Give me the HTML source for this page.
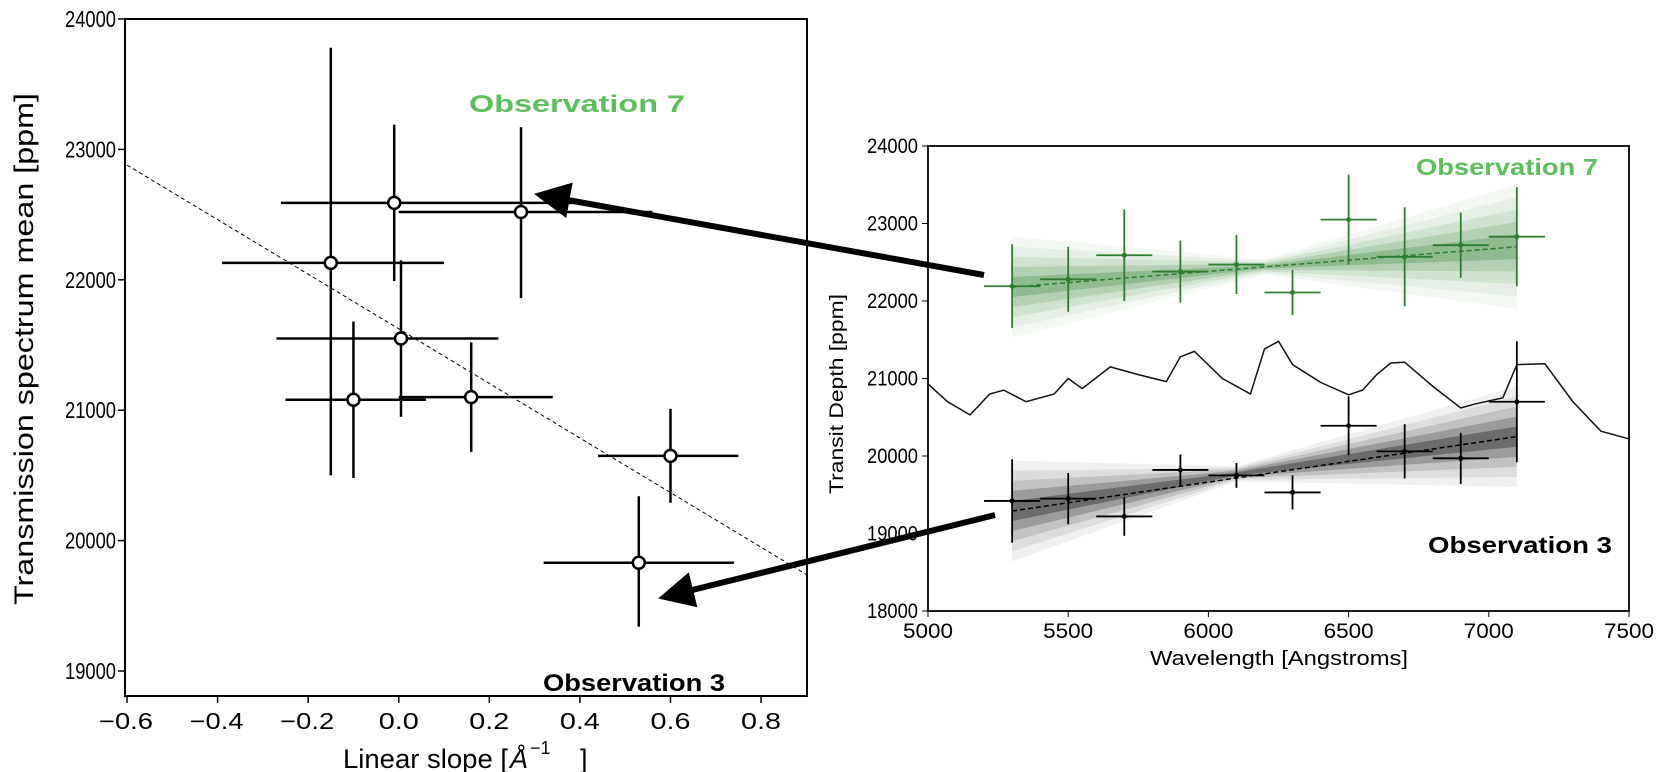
<!DOCTYPE html>
<html><head><meta charset="utf-8"><style>
body{margin:0;background:#fff}
svg{display:block}
text{font-family:"Liberation Sans",sans-serif}
</style></head><body>
<svg id="s" width="1659" height="772" xmlns="http://www.w3.org/2000/svg">
<defs>
<marker id="ah" markerWidth="6" markerHeight="6" refX="5" refY="3" orient="auto" markerUnits="strokeWidth"><path d="M0,0 L6,3 L0,6 z" fill="#000"/></marker>
</defs>
<g id="left"></g>
<g id="right"></g>
<line x1="984" y1="275" x2="540" y2="195" stroke="#000" stroke-width="6" marker-end="url(#ah)"/>
<line x1="995" y1="515" x2="664" y2="597" stroke="#000" stroke-width="6" marker-end="url(#ah)"/>
</svg>
<script>
// Left chart data
const slopes=[-0.15,-0.01,0.27,0.005,-0.10,0.16,0.60,0.53];
const slopeLo=[-0.39,-0.26,0.00,-0.27,-0.25,0.00,0.44,0.32];
const slopeHi=[0.10,0.42,0.56,0.22,0.06,0.34,0.75,0.74];
const means=[22130,22590,22520,21550,21080,21100,20650,19830];
const meanLo=[20500,21990,21860,20950,20480,20680,20290,19340];
const meanHi=[23780,23190,23170,22150,21680,21520,21010,20340];
const leftXTicks=[-0.6,-0.4,-0.2,0.0,0.2,0.4,0.6,0.8];
const leftYTicks=[19000,20000,21000,22000,23000,24000];
const fitLine=[[-0.6,22880],[0.9,19740]];
// Right chart data
const waves=[5300,5500,5700,5900,6100,6300,6500,6700,6900,7100];
const green=[22190,22280,22590,22380,22470,22110,23050,22570,22720,22830];
const greenErr=[540,420,590,400,380,290,580,640,420,640];
const black=[19420,19450,19220,19820,19750,19530,20390,20060,19970,20700];
const blackErr=[540,330,250,200,160,220,380,350,330,780];
const greenFit=[22180,22700];
const blackFit=[19290,20250];
const modelX=[5000,5070,5150,5220,5270,5350,5450,5500,5550,5650,5750,5850,5900,5950,6050,6150,6200,6250,6300,6400,6500,6550,6600,6650,6700,6800,6900,6950,7050,7100,7200,7300,7400,7500];
const modelY=[20930,20700,20530,20800,20850,20700,20800,21000,20870,21150,21050,20960,21280,21350,21000,20800,21380,21480,21180,20950,20790,20850,21050,21200,21210,20900,20620,20670,20750,21180,21190,20700,20320,20220];
const rightXTicks=[5000,5500,6000,6500,7000,7500];
const rightYTicks=[18000,19000,20000,21000,22000,23000,24000];

const NS="http://www.w3.org/2000/svg";
function mk(p,t,a,txt){const e=document.createElementNS(NS,t);for(const k in a)e.setAttribute(k,a[k]);if(txt!==undefined)e.textContent=txt;p.appendChild(e);return e;}
function fit(a,w){a.textLength=w;a.lengthAdjust='spacingAndGlyphs';return a;}

// Left
const L=document.getElementById('left');
const lx=v=>127+(v+0.6)*452.9, ly=v=>19+(24000-v)*0.1304;
let e;
e=mk(L,'rect',{x:125,y:19,width:682,height:677,fill:'none',stroke:'#000','stroke-width':2});

leftXTicks.forEach(t=>{mk(L,'line',{x1:lx(t),x2:lx(t),y1:696,y2:703,stroke:'#000','stroke-width':1.5});
 const s=(t<0?'\u2212':'')+Math.abs(t).toFixed(1);
 e=mk(L,'text',fit({x:lx(t)-(t<0?28:20),y:729,'font-size':23},t<0?54:40),s);
 });
leftYTicks.forEach(t=>{mk(L,'line',{x1:118,x2:125,y1:ly(t),y2:ly(t),stroke:'#000','stroke-width':1.5});
 e=mk(L,'text',fit({x:65,y:ly(t)+8,'font-size':23},51),t);
 });
e=mk(L,'line',{x1:lx(fitLine[0][0]),y1:ly(fitLine[0][1]),x2:lx(fitLine[1][0]),y2:ly(fitLine[1][1]),stroke:'#000','stroke-width':1,'stroke-dasharray':'4,3'});

slopes.forEach((s,i)=>{
 const g=mk(L,'g',{});
 
 mk(g,'line',{x1:lx(slopeLo[i]),x2:lx(slopeHi[i]),y1:ly(means[i]),y2:ly(means[i]),stroke:'#000','stroke-width':2.5});
 mk(g,'line',{x1:lx(s),x2:lx(s),y1:ly(meanLo[i]),y2:ly(meanHi[i]),stroke:'#000','stroke-width':2.5});
 mk(g,'circle',{cx:lx(s),cy:ly(means[i]),r:6,fill:'#fff',stroke:'#000','stroke-width':2.5});
});
e=mk(L,'text',fit({x:343,y:768,'font-size':27},165),'Linear slope [');

mk(L,'text',{x:510,y:768,'font-size':27,'font-style':'italic'},'Å');
mk(L,'text',{x:530,y:754,'font-size':18},'\u22121');
mk(L,'text',{x:580,y:768,'font-size':27},']');
e=mk(L,'text',fit({x:0,y:0,'font-size':27,'text-anchor':'middle',transform:'translate(33,349) rotate(-90)'},512),'Transmission spectrum mean [ppm]');

e=mk(L,'text',fit({x:469,y:112,'font-size':24,'font-weight':'bold',fill:'#5cbf5c'},216),'Observation 7');

e=mk(L,'text',fit({x:543,y:691,'font-size':24,'font-weight':'bold',fill:'#000'},182),'Observation 3');


// Right
const R=document.getElementById('right');
const rx=v=>928+(v-5000)*0.2804, ry=v=>146+(24000-v)*0.0775;
function fan(fitv,color,spread0,spread1,pivot,name){
 const x0=waves[0],x1=waves[waves.length-1];
 const lvls=[[1,0.06],[0.8,0.08],[0.6,0.12],[0.4,0.2],[0.2,0.3]];
 lvls.forEach(([k,o])=>{
  const p=[[x0,fitv[0]+spread0*k],[pivot,(fitv[0]+fitv[1])/2+spread0*k*0.15],[x1,fitv[1]+spread1*k],[x1,fitv[1]-spread1*k],[pivot,(fitv[0]+fitv[1])/2-spread0*k*0.15],[x0,fitv[0]-spread0*k]];
  e=mk(R,'polygon',{points:p.map(q=>rx(q[0])+','+ry(q[1])).join(' '),fill:color,opacity:o});
  
 });
}
fan(greenFit,'#3a8a3a',650,800,6200,'green-posterior-fan');
fan(blackFit,'#000',650,650,6100,'black-posterior-fan');
e=mk(R,'polyline',{points:modelX.map((x,i)=>rx(x)+','+ry(modelY[i])).join(' '),fill:'none',stroke:'#111','stroke-width':1.5});

[[green,greenErr,'#2e7d2e',greenFit,'green'],[black,blackErr,'#000',blackFit,'black']].forEach(([v,er,c,f,n])=>{
 e=mk(R,'line',{x1:rx(waves[0]),y1:ry(f[0]),x2:rx(waves[9]),y2:ry(f[1]),stroke:c,'stroke-width':1.5,'stroke-dasharray':'5,3'});
 
 waves.forEach((w,i)=>{
  const g=mk(R,'g',{});
  
  mk(g,'line',{x1:rx(w-100),x2:rx(w+100),y1:ry(v[i]),y2:ry(v[i]),stroke:c,'stroke-width':1.8});
  mk(g,'line',{x1:rx(w),x2:rx(w),y1:ry(v[i]-er[i]),y2:ry(v[i]+er[i]),stroke:c,'stroke-width':1.8});
  mk(g,'circle',{cx:rx(w),cy:ry(v[i]),r:2.5,fill:c});
 });
});
e=mk(R,'rect',{x:928,y:146,width:701,height:465,fill:'none',stroke:'#000','stroke-width':1.8});

rightXTicks.forEach(t=>{mk(R,'line',{x1:rx(t),x2:rx(t),y1:611,y2:617,stroke:'#000'});
 e=mk(R,'text',fit({x:rx(t)-25,y:638,'font-size':21},50),t);
 });
rightYTicks.forEach(t=>{mk(R,'line',{x1:922,x2:928,y1:ry(t),y2:ry(t),stroke:'#000'});
 e=mk(R,'text',fit({x:867,y:ry(t)+7,'font-size':21},51),t);
 });
e=mk(R,'text',fit({x:1150,y:665,'font-size':20},258),'Wavelength [Angstroms]');

e=mk(R,'text',fit({x:0,y:0,'font-size':19,'text-anchor':'middle',transform:'translate(843,394) rotate(-90)'},200),'Transit Depth [ppm]');

e=mk(R,'text',fit({x:1416,y:175,'font-size':23,'font-weight':'bold',fill:'#5cbf5c'},182),'Observation 7');

e=mk(R,'text',fit({x:1428,y:553,'font-size':23,'font-weight':'bold',fill:'#000'},184),'Observation 3');

</script>
</body></html>
